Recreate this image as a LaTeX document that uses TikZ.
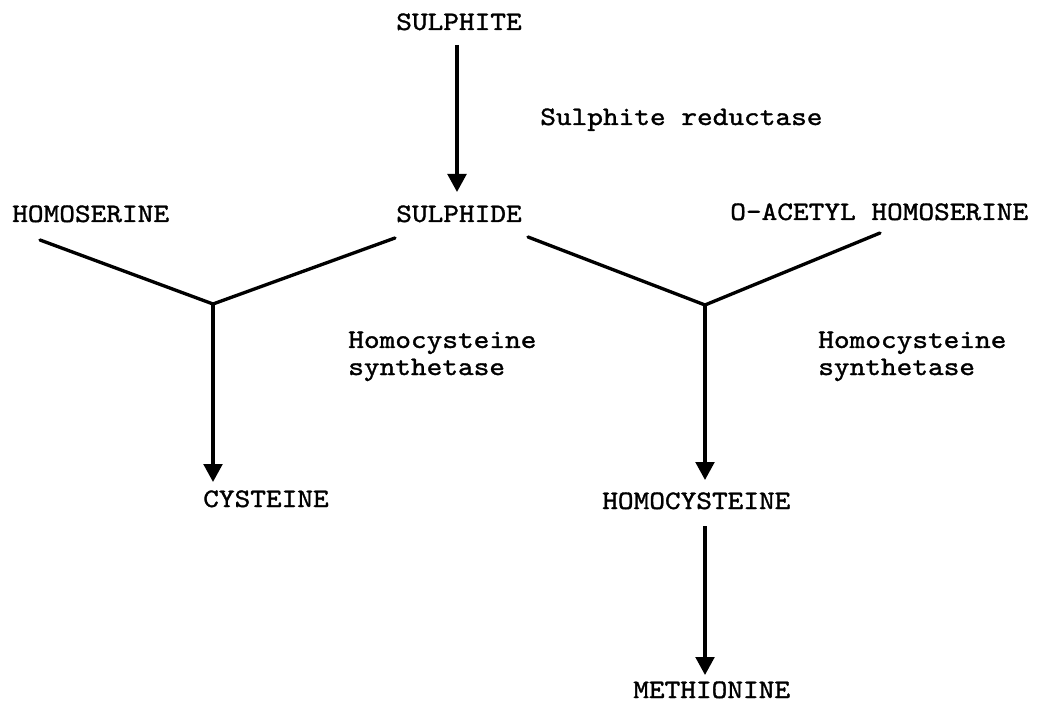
\documentclass[tikz,border=0pt]{standalone}
\usepackage{fontspec}
\newfontfamily\typewriter{lmmono10-regular.otf}[FakeBold=1.3,FakeStretch=1.12]
\usetikzlibrary{arrows.meta}
\begin{document}
\begin{tikzpicture}[x=0.75pt,y=-0.75pt,
  label/.style={font=\typewriter\fontsize{20}{20.3}\selectfont,inner sep=0pt,anchor=base west,align=left},
  link/.style={line width=2.5pt,line cap=round},
  flow/.style={line width=2.5pt,-{Triangle[length=13.5pt,width=14pt]}}]
\useasboundingbox (0,0) rectangle (1037,705);
% compounds
\node[label] (sulphite) at (396,30) {SULPHITE};
\node[label] (sulphide) at (396,222) {SULPHIDE};
\node[label] (homoserine) at (12,222) {HOMOSERINE};
\node[label] (oacetyl) at (730,220) {O-ACETYL HOMOSERINE};
\node[label] (cysteine) at (203,507) {CYSTEINE};
\node[label] (homocysteine) at (602,509) {HOMOCYSTEINE};
\node[label] (methionine) at (633,698) {METHIONINE};
% enzymes (base anchor sits on the last line)
\node[label] (reductase) at (540,125) {Sulphite reductase};
\node[label] (synthL) at (348,375) {Homocysteine\\synthetase};
\node[label] (synthR) at (818,375) {Homocysteine\\synthetase};
% line ends and branch points
\coordinate (a1) at (457,45);
\coordinate (a2) at (457,192);
\coordinate (l1) at (40,240);
\coordinate (l2) at (395,238);
\coordinate (lj) at (213,304);
\coordinate (lt) at (213,482);
\coordinate (r1) at (528,237);
\coordinate (r2) at (880,233);
\coordinate (rj) at (705,305);
\coordinate (rt) at (705,480);
\coordinate (m1) at (705,526);
\coordinate (m2) at (705,675);
% reactions
\draw[flow] (a1) -- (a2);
\draw[link] (l1) -- (lj) -- (l2);
\draw[flow] (lj) -- (lt);
\draw[link] (r1) -- (rj) -- (r2);
\draw[flow] (rj) -- (rt);
\draw[flow] (m1) -- (m2);
\end{tikzpicture}
\end{document}
